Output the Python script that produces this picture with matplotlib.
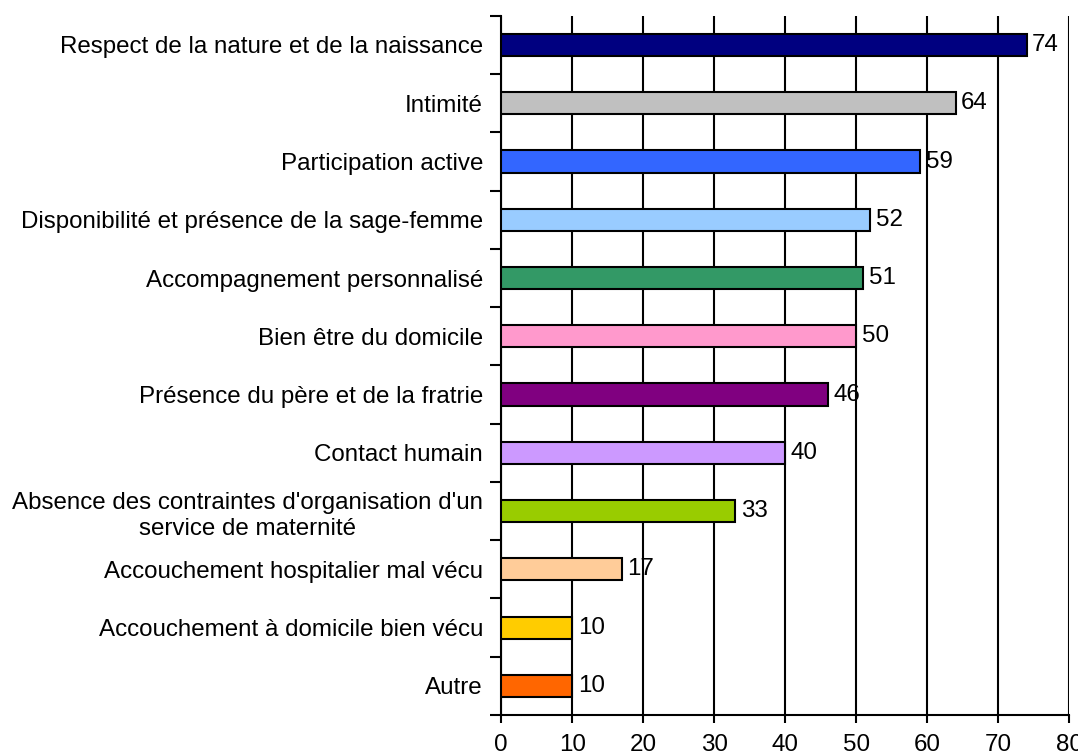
import numpy as np
import matplotlib.pyplot as plt

plt.rcParams['font.family'] = ['Liberation Sans', 'DejaVu Sans']

categories = [
    'Respect de la nature et de la naissance',
    'Intimité',
    'Participation active',
    'Disponibilité et présence de la sage-femme',
    'Accompagnement personnalisé',
    'Bien être du domicile',
    'Présence du père et de la fratrie',
    'Contact humain',
    "Absence des contraintes d'organisation d'un\nservice de maternité",
    'Accouchement hospitalier mal vécu',
    'Accouchement à domicile bien vécu',
    'Autre',
]
values = [74, 64, 59, 52, 51, 50, 46, 40, 33, 17, 10, 10]
colors = ['#000080', '#C0C0C0', '#3366FF', '#99CCFF', '#339966', '#FF99CC',
          '#800080', '#CC99FF', '#99CC00', '#FFCC99', '#FFCC00', '#FF6600']

fs = 17.4

fig = plt.figure(figsize=(10.78, 7.55), dpi=100)
ax = fig.add_axes([0.4648, 0.053, 0.527, 0.926])

y = np.arange(len(categories))
ax.barh(y, values, height=0.38, color=colors, edgecolor='black', linewidth=1.5, zorder=3)
for yi, v in zip(y, values):
    ax.text(v + 0.8, yi, str(v), va='center', ha='left', fontsize=fs, zorder=4)

ax.set_xlim(0, 80)
ax.set_ylim(len(categories) - 0.5, -0.5)
ax.set_xticks(np.arange(0, 81, 10))
ax.xaxis.grid(True, color='black', linewidth=1.5, zorder=0)

# category boundaries carry the tick marks, labels sit at the centres
ax.set_yticks(np.arange(-0.5, len(categories), 1.0))
ax.set_yticklabels([])
ax.set_yticks(y, minor=True)
ax.set_yticklabels(categories, minor=True, fontsize=fs, multialignment='center',
                   linespacing=1.28)
ax.tick_params(axis='y', which='major', length=8, width=1.5, direction='out')
ax.tick_params(axis='y', which='minor', length=0, pad=13)
ax.tick_params(axis='x', length=6, width=1.5, direction='out', labelsize=fs, pad=8)

for s in ['top', 'right']:
    ax.spines[s].set_visible(False)
for s in ['left', 'bottom']:
    ax.spines[s].set_linewidth(1.5)

fig.savefig('out.png', dpi=100)
